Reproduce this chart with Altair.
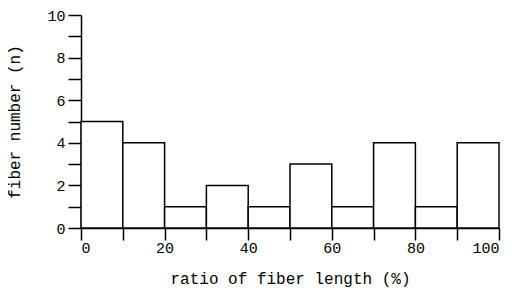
import altair as alt
import pandas as pd

bin_start = [0, 10, 20, 30, 40, 50, 60, 70, 80, 90]
bin_end = [10, 20, 30, 40, 50, 60, 70, 80, 90, 100]
counts = [5, 4, 1, 2, 1, 3, 1, 4, 1, 4]

x_ticks = list(range(0, 101, 10))
y_ticks = list(range(0, 11, 1))

df = pd.DataFrame({"start": bin_start, "end": bin_end, "n": counts, "base": [0] * len(counts)})

FONT = "Liberation Mono"

chart = alt.Chart(df).mark_bar(
    fill="white", stroke="black", strokeWidth=1.5
).encode(
    x=alt.X("start:Q",
            scale=alt.Scale(domain=[0, 100], nice=False),
            axis=alt.Axis(values=x_ticks, tickSize=12,
                          labelExpr="datum.value % 20 == 0 ? datum.label : ''",
                          title="ratio of fiber length (%)",
                          titlePadding=15, labelPadding=0)),
    x2="end:Q",
    y=alt.Y("n:Q",
            scale=alt.Scale(domain=[0, 10], nice=False),
            axis=alt.Axis(values=y_ticks, tickSize=13,
                          labelExpr="datum.value % 2 == 0 ? datum.label : ''",
                          title="fiber number (n)",
                          titlePadding=24, labelPadding=3)),
    y2="base:Q",
).properties(
    width=418, height=213,
    autosize=alt.AutoSizeParams(type="none"),
    padding={"left": 73, "top": 7, "right": 10, "bottom": 66},
).configure_view(stroke=None).configure_axis(
    grid=False,
    domainColor="black", domainWidth=1.5,
    tickColor="black", tickWidth=1.5,
    labelFont=FONT, labelFontSize=15, labelColor="black",
    titleFont=FONT, titleFontSize=16, titleFontWeight="normal", titleColor="black",
)

chart.save("out.html", embed_options={"renderer": "svg", "actions": False})
